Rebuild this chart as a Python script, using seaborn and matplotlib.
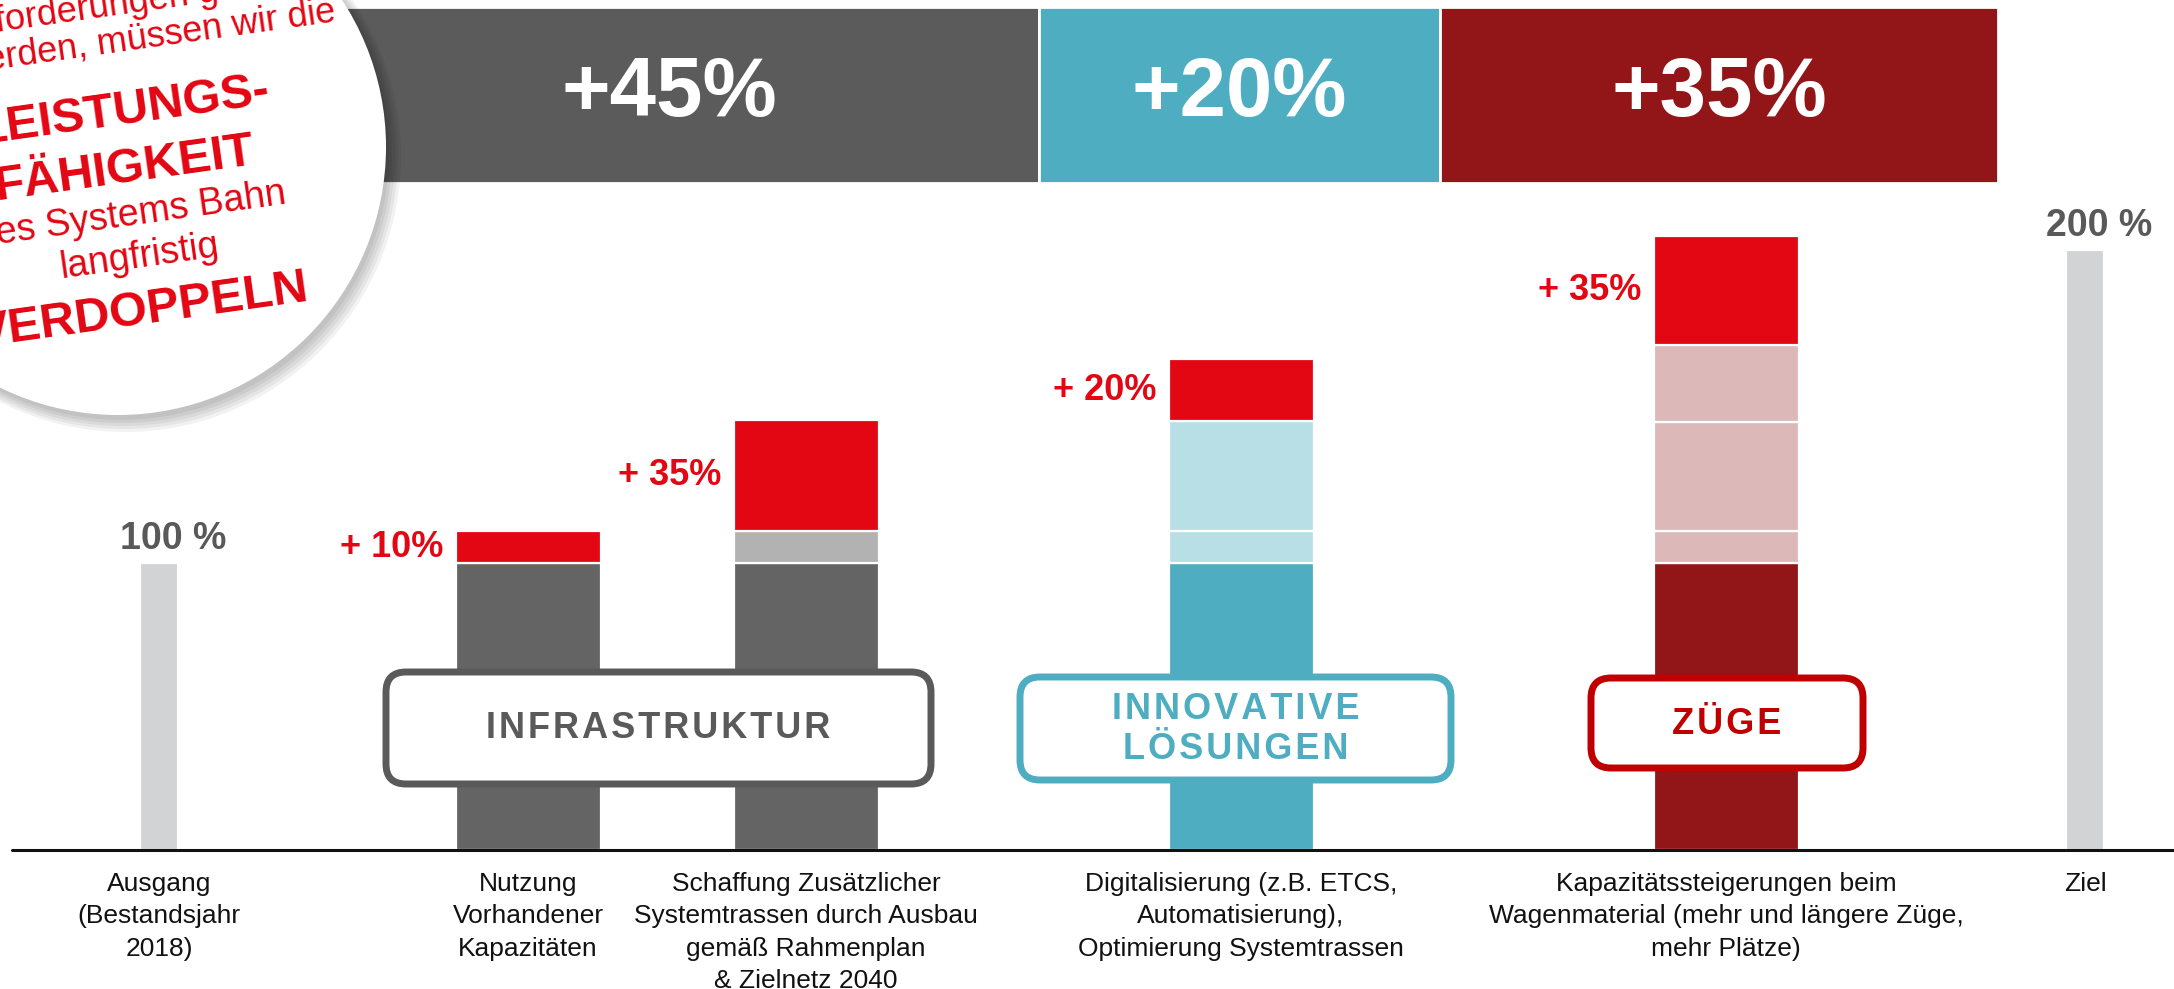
# %%
# import libraries

import matplotlib
matplotlib.use('Agg')
import matplotlib.pyplot as plt
from matplotlib.patches import Circle, FancyBboxPatch
import seaborn as sns

# %%
# chart data (bar heights in percent of the starting capacity)

categories = ['Ausgang\n(Bestandsjahr\n2018)',
              'Nutzung\nVorhandener\nKapazitäten',
              'Schaffung Zusätzlicher\nSystemtrassen durch Ausbau\ngemäß Rahmenplan\n& Zielnetz 2040',
              'Digitalisierung (z.B. ETCS,\nAutomatisierung),\nOptimierung Systemtrassen',
              'Kapazitätssteigerungen beim\nWagenmaterial (mehr und längere Züge,\nmehr Plätze)',
              'Ziel']
x_pos = [159, 528, 806, 1241, 1726, 2085]
bar_width = [38, 145, 145, 145, 145, 38]

base = [100, 100, 100, 100, 100, 208.9]
carry_a = [0, 0, 11, 11, 11, 0]
carry_b = [0, 0, 0, 38.5, 38.2, 0]
carry_c = [0, 0, 0, 0, 26.7, 0]
gain = [0, 11, 38.8, 21.5, 38, 0]
gain_labels = ['', '+ 10%', '+ 35%', '+ 20%', '+ 35%', '']
total_labels = ['100 %', '', '', '', '', '200 %']

banner_labels = ['+45%', '+20%', '+35%']
banner_len = [739, 401, 558]

groups = ['INFRASTRUKTUR', 'INNOVATIVE\nLÖSUNGEN', 'ZÜGE']

# %%
# colours

RED = '#e30613'
LIGHT = '#d2d3d5'
DGREY = '#646464'
TEAL = '#4fadc1'
DRED = '#921618'
base_colors = [LIGHT, DGREY, DGREY, TEAL, DRED, LIGHT]
carry_colors = [None, None, '#b2b2b2', '#b9dfe6', '#dcb8b8', None]
banner_colors = ['#5b5b5b', TEAL, DRED]
group_colors = ['#5a5a5a', TEAL, '#c00000']

# %%
# style

sns.set_style('white')
plt.rcParams['font.family'] = ['Liberation Sans', 'DejaVu Sans']

fig = plt.figure(figsize=(21.74, 9.89), dpi=100)
ax = fig.add_axes([0, 0, 1, 1])
ax.set_xlim(0, 2174)
ax.set_ylim(-(989 - 850) / 2.87, 850 / 2.87)
ax.axis('off')

# %%
# stacked bars

bottom = [0.0] * len(x_pos)
layers = [(base, base_colors), (carry_a, carry_colors), (carry_b, carry_colors),
          (carry_c, carry_colors), (gain, [RED] * len(x_pos))]
gain_mid = [0.0] * len(x_pos)
for values, colors in layers:
    for i, v in enumerate(values):
        if v <= 0:
            continue
        ax.bar(x_pos[i], v, width=bar_width[i], bottom=bottom[i], color=colors[i],
               edgecolor='white', linewidth=1.6, zorder=2)
        if values is gain:
            gain_mid[i] = bottom[i] + v / 2
        bottom[i] += v

ax.axhline(0, xmin=12 / 2174, xmax=1, color='#111111', lw=2.2, zorder=3)

for i, lab in enumerate(gain_labels):
    if lab:
        ax.text(x_pos[i] - bar_width[i] / 2 - 12, gain_mid[i], lab, ha='right', va='center',
                color=RED, fontsize=26, fontweight='bold')
for i, lab in enumerate(total_labels):
    if lab:
        ax.text(x_pos[i] + 14, bottom[i] + 8.5, lab, ha='center', va='center',
                color='#595959', fontsize=27, fontweight='bold')

for i, cat in enumerate(categories):
    ax.text(x_pos[i], -7.5, cat, ha='center', va='top', fontsize=19,
            color='#111111', linespacing=1.45)

# %%
# overlay in pixel coordinates: banner, group boxes, circle

ov = fig.add_axes([0, 0, 1, 1])
ov.set_xlim(0, 2174)
ov.set_ylim(989, 0)
ov.axis('off')
ov.patch.set_alpha(0)
ov.set_zorder(3)

left = 300
for lab, length, col in zip(banner_labels, banner_len, banner_colors):
    ov.barh(95, length, left=left, height=176, color=col, edgecolor='white', linewidth=2,
            align='center')
    ov.text(left + length / 2, 94, lab, ha='center', va='center', color='white',
            fontsize=60, fontweight='bold')
    left += length

boxes = [(386, 672, 545, 112), (1020, 677, 431, 103), (1591, 678, 272, 90)]
for (bx, by, bw, bh), g, col in zip(boxes, groups, group_colors):
    ov.add_patch(FancyBboxPatch((bx, by), bw, bh, boxstyle='round,pad=0,rounding_size=20',
                                facecolor='white', edgecolor=col, linewidth=5, zorder=4))
    spaced = '\n'.join('\u200a'.join(line) for line in g.split('\n'))
    ov.text(bx + bw / 2, by + bh / 2 + 1, spaced, ha='center', va='center', color=col,
            fontsize=26, fontweight='bold', linespacing=1.2, zorder=5)

for k in range(5):
    ov.add_patch(Circle((121 + k, 152 + k), 268 + 2 * k, facecolor='black', alpha=0.05,
                        edgecolor='none', zorder=6))
ov.add_patch(Circle((118, 147), 268, facecolor='white', edgecolor='none', zorder=7))

circle_lines = [
    ('Anforderungen gerecht zu', (158, 0), 26, 'normal'),
    ('werden, müssen wir die', (148, 38), 26, 'normal'),
    ('LEISTUNGS-', (124, 111), 35, 'bold'),
    ('FÄHIGKEIT', (125, 169), 35, 'bold'),
    ('des Systems Bahn', (131, 215), 27, 'normal'),
    ('langfristig', (139, 257), 27, 'normal'),
    ('VERDOPPELN', (143, 311), 35, 'bold'),
]
for txt, (cx, cy), fs, fw in circle_lines:
    ov.text(cx, cy, txt, ha='center', va='center', rotation=8, rotation_mode='anchor',
            color=RED, fontsize=fs, fontweight=fw, zorder=8)

fig.savefig('out.png', dpi=100)
